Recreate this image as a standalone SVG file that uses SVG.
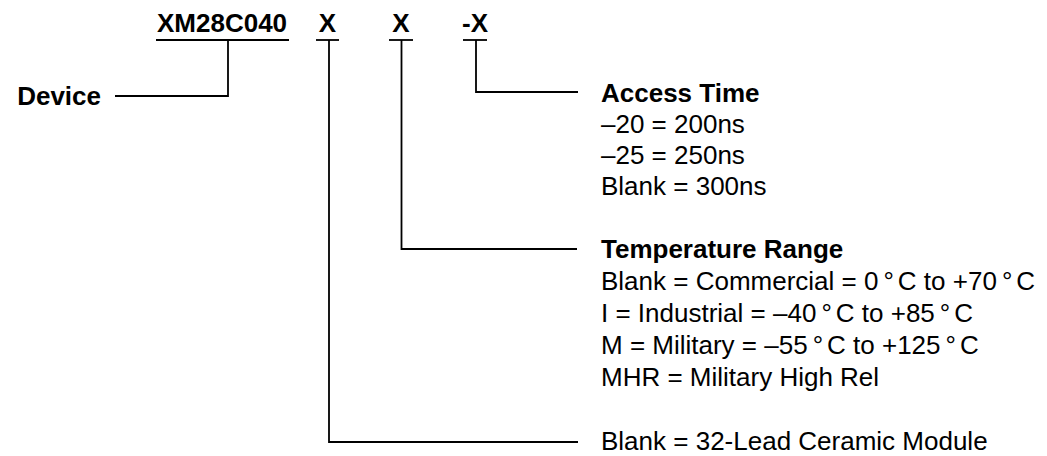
<svg xmlns="http://www.w3.org/2000/svg" width="1047" height="456" viewBox="0 0 1047 456">
<style>
  .t { font-family: "Liberation Sans", Arial, sans-serif; font-size: 26px; fill: #000; }
  .b { font-weight: bold; }
  .ln { stroke: #000; stroke-width: 1.8; fill: none; }
</style>
<rect width="1047" height="456" fill="#fff"/>
<g id="part-number">
  <text class="t b" x="157" y="32">XM28C040</text>
  <line class="ln" x1="156" y1="40" x2="289" y2="40"/>
</g>
<g id="field-x1">
  <text class="t b" x="327.5" y="32" text-anchor="middle">X</text>
  <line class="ln" x1="316" y1="40" x2="339" y2="40"/>
</g>
<g id="field-x2">
  <text class="t b" x="401" y="32" text-anchor="middle">X</text>
  <line class="ln" x1="389" y1="40" x2="413" y2="40"/>
</g>
<g id="field-x3">
  <text class="t b" x="475" y="32" text-anchor="middle">-X</text>
  <line class="ln" x1="463" y1="40" x2="487" y2="40"/>
</g>
<g id="device">
  <text class="t b" x="101" y="105" text-anchor="end">Device</text>
</g>
<g id="access-time">
  <text class="t b" x="601" y="101.5">Access Time</text>
  <text class="t" x="601" y="132.5">–20 = 200ns</text>
  <text class="t" x="601" y="163.5">–25 = 250ns</text>
  <text class="t" x="601" y="194.5">Blank = 300ns</text>
</g>
<g id="temperature-range">
  <text class="t b" x="601" y="258">Temperature Range</text>
  <text class="t" x="601" y="290">Blank = Commercial = 0<tspan dx="5">°</tspan><tspan dx="4">C</tspan> to +70<tspan dx="5">°</tspan><tspan dx="4">C</tspan></text>
  <text class="t" x="601" y="322">I = Industrial = –40<tspan dx="5">°</tspan><tspan dx="4">C</tspan> to +85<tspan dx="5">°</tspan><tspan dx="4">C</tspan></text>
  <text class="t" x="601" y="354">M = Military = –55<tspan dx="5">°</tspan><tspan dx="4">C</tspan> to +125<tspan dx="5">°</tspan><tspan dx="4">C</tspan></text>
  <text class="t" x="601" y="386">MHR = Military High Rel</text>
</g>
<g id="package">
  <text class="t" x="601" y="450">Blank = 32-Lead Ceramic Module</text>
</g>
<g id="connectors">
  <path class="ln" d="M228,40 V96 H115"/>
  <path class="ln" d="M329,40 V442 H578"/>
  <path class="ln" d="M401.5,40 V249 H577"/>
  <path class="ln" d="M476,40 V92 H578"/>
</g>
</svg>
